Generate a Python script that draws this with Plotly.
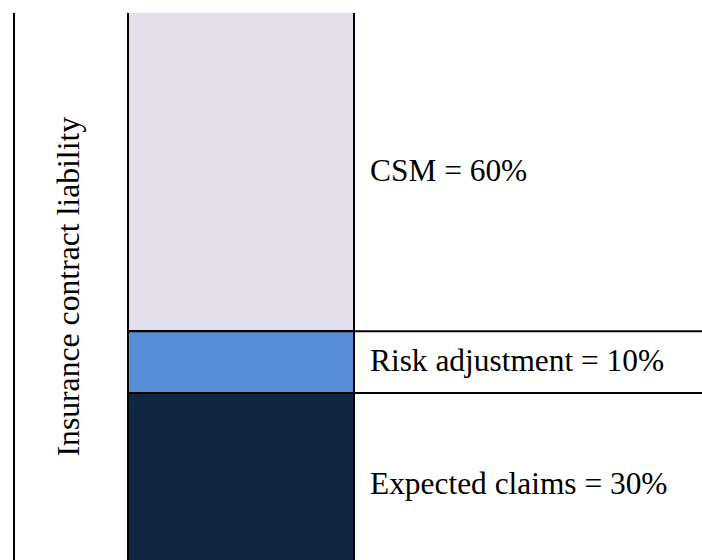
import plotly.graph_objects as go

# Data
categories = ["Insurance contract liability"]
components = ["Expected claims", "Risk adjustment", "CSM"]
shares = [30, 10, 60]          # percent of liability
colors = ["#10253F", "#558ED5", "#E4DFEC"]
labels = [f"{c} = {v}%" for c, v in zip(components, shares)]

FONT = "Liberation Serif, Times New Roman, serif"
Y_RANGE = [2.93, 91.59]
X_RANGE = [-1.0, 2.0398]

fig = go.Figure()
for comp, val, col in zip(components, shares, colors):
    fig.add_trace(go.Bar(
        x=[0], y=[val], name=comp, width=1,
        marker=dict(color=col, line=dict(color="black", width=2)),
        showlegend=False, hoverinfo="skip",
    ))

# cumulative boundaries
bounds = [0]
for v in shares:
    bounds.append(bounds[-1] + v)

# horizontal divider lines from bar to right edge
for b in bounds[1:-1]:
    fig.add_shape(type="line", xref="x", yref="y",
                  x0=-0.5, x1=X_RANGE[1], y0=b, y1=b,
                  line=dict(color="black", width=2), layer="above")

# labels centered in the visible part of each segment
for i, lab in enumerate(labels):
    lo = bounds[i]
    hi = min(bounds[i + 1], Y_RANGE[1])
    fig.add_annotation(x=0.5, y=(lo + hi) / 2, xref="x", yref="y",
                       text=lab, showarrow=False, xanchor="left", yanchor="middle",
                       xshift=14, yshift=2,
                       font=dict(family=FONT, size=31.4, color="black"))

# axis title as rotated text inside the area
fig.add_annotation(x=(68 - 15) / 687, y=0.5, xref="paper", yref="paper",
                   text=categories[0], textangle=-90, showarrow=False,
                   xanchor="center", yanchor="middle",
                   font=dict(family=FONT, size=31.7, color="black"))

fig.update_layout(
    width=702, height=560, barmode="stack",
    margin=dict(l=15, r=0, t=13, b=0),
    paper_bgcolor="white", plot_bgcolor="white",
    xaxis=dict(range=X_RANGE, visible=False, fixedrange=True),
    yaxis=dict(range=Y_RANGE, showline=True, linecolor="black", linewidth=2,
               showticklabels=False, ticks="", showgrid=False, zeroline=False,
               fixedrange=True),
)

fig.write_html("out.html",
               config={"displayModeBar": False, "staticPlot": True},
               post_script="document.body.style.margin='0px';document.body.style.overflow='hidden';")
